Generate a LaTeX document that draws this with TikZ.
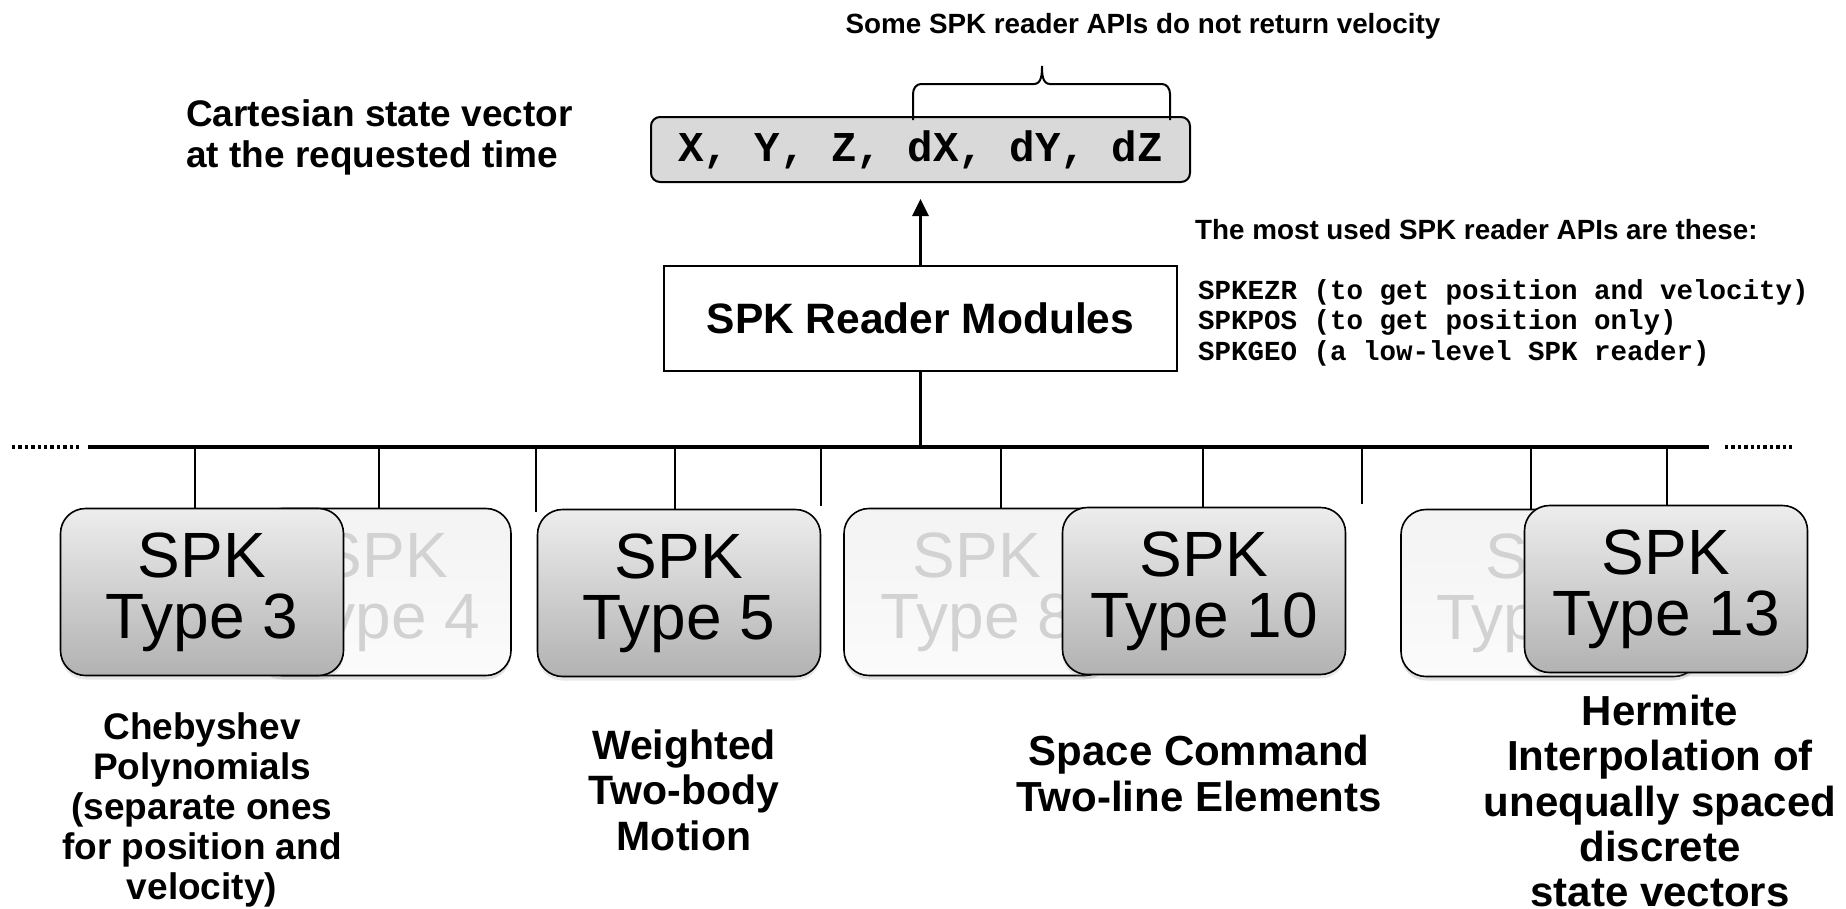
\documentclass[tikz,border=0pt]{standalone}
\usepackage{fontspec}
\setmainfont{Liberation Sans}
\newfontfamily\codefont{Liberation Mono}
\usetikzlibrary{arrows.meta,positioning,shadows}

\definecolor{boxtop}{HTML}{EDEDED}
\definecolor{boxbot}{HTML}{B2B2B2}
\definecolor{fadetop}{HTML}{F3F3F3}
\definecolor{fadebot}{HTML}{FBFBFB}
\definecolor{fadetext}{HTML}{D2D2D2}
\definecolor{statefill}{HTML}{D9D9D9}

\begin{document}
\begin{tikzpicture}[x=1pt, y=-1pt,
  % Node styles
  spk/.style={draw, line width=1.6pt, rounded corners=25pt, minimum width=283pt,
              minimum height=167pt, inner sep=0pt, align=center,
              top color=boxtop, bottom color=boxbot,
              font=\fontsize{64}{61}\selectfont,
              drop shadow={shadow xshift=0pt, shadow yshift=-4pt, opacity=0.18}},
  faded/.style={spk, top color=fadetop, bottom color=fadebot, text=fadetext,
              drop shadow={shadow xshift=0pt, shadow yshift=-4pt, opacity=0.08}},
  state/.style={draw, line width=2pt, rounded corners=9pt, fill=statefill,
              minimum width=539pt, minimum height=65pt, inner sep=0pt,
              font=\codefont\bfseries\fontsize{42.5}{45}\selectfont},
  reader/.style={draw, line width=2.8pt, fill=white, minimum width=513pt,
              minimum height=105pt, inner sep=0pt,
              font=\bfseries\fontsize{42.5}{45}\selectfont},
  desc/.style={align=center, inner sep=0pt, font=\bfseries},
  note/.style={inner sep=0pt, font=\bfseries\fontsize{27.8}{30}\selectfont},
  % Line styles
  bus/.style={line width=3.4pt},
  stem/.style={line width=2.6pt},
  dots/.style={line width=3.4pt, dash pattern=on 3.4pt off 3pt},
  arr/.style={line width=2.8pt, -{Triangle[length=17pt, width=16pt]}},
  brace/.style={line width=2pt},
]

% === Top: state vector and reader ===
\node[state]  (sv) at (920.5, 149.5) {X, Y, Z, dX, dY, dZ};
\node[reader] (rd) at (920.5, 318.5) {SPK Reader Modules};

\node[note] (velo) at (1143, 26) {Some SPK reader APIs do not return velocity};
\node[desc, anchor=west, align=left, font=\bfseries\fontsize{37}{41}\selectfont]
  (cart) at (186, 137.5) {Cartesian state vector\\at the requested time};

\node[note, anchor=west] (used) at (1195, 230) {The most used SPK reader APIs are these:};
\node[anchor=west, align=left, inner sep=0pt,
      font=\codefont\bfseries\fontsize{27.5}{30.5}\selectfont]
  (apis) at (1198, 322.5) {SPKEZR (to get position and velocity)\\
                           SPKPOS (to get position only)\\
                           SPKGEO (a low-level SPK reader)};

% brace over the velocity part
\draw[brace] (913,120) -- (913,94) to[out=90,in=180] (921,84) -- (1034,84)
  to[out=0,in=-90] (1042,66) to[out=-90,in=180] (1050,84) -- (1162,84)
  to[out=0,in=90] (1170,94) -- (1170,120);

\draw[arr, shorten >=16pt] (rd.north) -- (sv.south);

% === Bus ===
\coordinate (busL) at (88, 447);
\coordinate (busR) at (1709, 447);
\draw[bus] (busL) -- (busR);
\draw[dots] (12, 447) -- (81, 447);
\draw[dots] (1725, 447) -- (1792, 447);
\draw[bus] (rd.south) -- (rd.south |- busL);

% === SPK type boxes (faded ones first) ===
\node[faded, minimum width=254pt] (t4)  at (384, 592)  {SPK\\Type 4};
\node[faded, minimum width=266pt] (t8)  at (977, 592)  {SPK\\Type 8};
\node[faded, minimum width=298pt] (t12) at (1550, 593) {SPK\\Type 12};

\node[spk] (t3)  at (202, 592)  {SPK\\Type 3};
\node[spk] (t5)  at (679, 593)  {SPK\\Type 5};
\node[spk] (t10) at (1204, 591) {SPK\\Type 10};
\node[spk] (t13) at (1666, 589) {SPK\\Type 13};

% stems from the bus
\foreach \t/\dx in {t3/-7,t4/-5,t5/-4,t8/24,t10/-1,t12/-19,t13/1}
  \draw[stem] ([xshift=\dx pt]\t.north |- busL) -- ([xshift=\dx pt]\t.north);

\coordinate (s1) at (536, 512);
\coordinate (s2) at (821, 506);
\coordinate (s3) at (1362, 504);
\foreach \s in {s1,s2,s3}
  \draw[stem] (\s |- busL) -- (\s);

% === Descriptions ===
\node[desc, font=\bfseries\fontsize{37}{40}\selectfont] (d3) at (202, 810)
  {Chebyshev\\Polynomials\\(separate ones\\for position and\\velocity)};
\node[desc, font=\bfseries\fontsize{41}{45.5}\selectfont] (d5) at (684, 790)
  {Weighted\\Two-body\\Motion};
\node[desc, font=\bfseries\fontsize{42}{46}\selectfont] (d10) at (1199, 773)
  {Space Command\\Two-line Elements};
\node[desc, font=\bfseries\fontsize{42}{45.3}\selectfont] (d13) at (1660, 801)
  {Hermite\\Interpolation of\\unequally spaced\\discrete\\state vectors};

\useasboundingbox (0,0) rectangle (1846,908);
\end{tikzpicture}
\end{document}
